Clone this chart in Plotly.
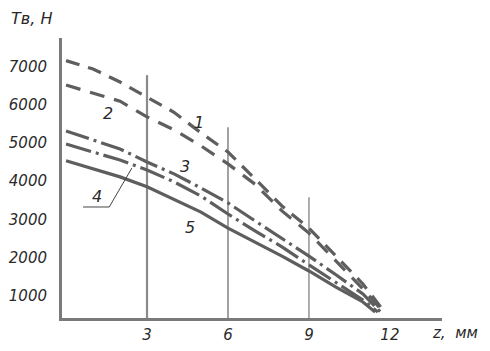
import plotly.graph_objects as go

# ---- data ----
z_common = [0, 1, 2, 3, 4, 5, 6, 7, 8, 9, 10, 11]

curve1_z = z_common + [11.8]
curve1_T = [7150, 6930, 6590, 6200, 5800, 5260, 4760, 4060, 3350, 2770, 2040, 1310, 580]

curve2_z = z_common + [11.8]
curve2_T = [6510, 6300, 6090, 5680, 5340, 4920, 4450, 3920, 3220, 2640, 1910, 1180, 550]

curve3_z = z_common + [11.65]
curve3_T = [5310, 5070, 4840, 4500, 4190, 3820, 3430, 2960, 2510, 2040, 1550, 1050, 580]

curve4_z = z_common + [11.55]
curve4_T = [4970, 4760, 4550, 4290, 3980, 3610, 3140, 2700, 2280, 1810, 1340, 890, 580]

curve5_z = z_common + [11.45]
curve5_T = [4530, 4320, 4110, 3850, 3530, 3190, 2770, 2410, 2040, 1650, 1230, 840, 580]

curve_names = ["1", "2", "3", "4", "5"]

drop_z = [3, 6, 9]
drop_top = [6770, 5410, 3580]

x_ticks = [3, 6, 9, 12]
x_ticktext = ["3", "6", "9", "12"]
y_ticks = [1000, 2000, 3000, 4000, 5000, 6000, 7000]
y_ticktext = ["1000", "2000", "3000", "4000", "5000", "6000", "7000"]

X_RANGE = [-0.15, 13.93]
Y_RANGE = [421, 7741]

LINE_COL = "#5e5e5e"
AXIS_COL = "#7a7a7a"
TEXT_COL = "#2a2a2a"
FONT = "DejaVu Sans"

fig = go.Figure()

# vertical drop lines at z = 3, 6, 9
for zz, top, w in zip(drop_z, drop_top, [2.2, 1.6, 1.4]):
    fig.add_trace(go.Scatter(x=[zz, zz], y=[Y_RANGE[0], top], mode="lines",
                             line=dict(color="#8a8a8a", width=w),
                             hoverinfo="skip", showlegend=False))

styles = ["14px,9px", "15px,10px", "24px,5px,3px,5px", "26px,5px,3px,5px", "solid"]
series = [(curve1_z, curve1_T), (curve2_z, curve2_T), (curve3_z, curve3_T),
          (curve4_z, curve4_T), (curve5_z, curve5_T)]
for (zs, ts), dash, nm in zip(series, styles, curve_names):
    fig.add_trace(go.Scatter(x=zs, y=ts, mode="lines", name=nm,
                             line=dict(color=LINE_COL, width=3.2, dash=dash),
                             showlegend=False))

# leader line for label 4
fig.add_trace(go.Scatter(x=[0.63, 1.6, 2.44], y=[3323, 3323, 4342], mode="lines",
                         line=dict(color="#444444", width=1),
                         hoverinfo="skip", showlegend=False))

label_pos = {"1": (4.91, 5545), "2": (1.54, 5780), "3": (4.42, 4369),
             "4": (1.15, 3610), "5": (4.61, 2774)}
for nm in curve_names:
    zx, ty = label_pos[nm]
    fig.add_annotation(x=zx, y=ty, xref="x", yref="y", text=nm, showarrow=False,
                       xanchor="center", yanchor="middle",
                       font=dict(family=FONT, size=16, color=TEXT_COL, style="italic"))

# origin "0"
fig.add_annotation(x=-0.74, y=0, xref="x", yref="paper", yshift=-15, text="0",
                   showarrow=False, xanchor="center", yanchor="middle",
                   font=dict(family=FONT, size=15, color=TEXT_COL, style="italic"))
# axis titles
fig.add_annotation(x=1.034, y=0, xref="paper", yref="paper", yshift=-15,
                   text="z,  мм", showarrow=False, xanchor="center", yanchor="middle",
                   font=dict(family=FONT, size=15, color=TEXT_COL, style="italic"))
fig.add_annotation(x=-0.08, y=1, xref="paper", yref="paper", yshift=20,
                   text="Тв, Н", showarrow=False, xanchor="center", yanchor="middle",
                   font=dict(family=FONT, size=16, color=TEXT_COL, style="italic"))

# the page body has an 8px margin, so the figure is sized/offset to compensate
fig.update_layout(
    template="none",
    width=482, height=343,
    margin=dict(l=54, r=48, t=30, b=33, pad=0),
    paper_bgcolor="white", plot_bgcolor="white",
    font=dict(family=FONT, color=TEXT_COL),
    showlegend=False,
)
fig.update_xaxes(range=X_RANGE, tickvals=x_ticks, ticktext=x_ticktext,
                 showgrid=False, zeroline=False, showline=True, automargin=False,
                 linecolor=AXIS_COL, linewidth=3, ticks="",
                 ticklabelstandoff=1,
                 tickfont=dict(family=FONT, size=15, color=TEXT_COL, style="italic"))
fig.update_yaxes(range=Y_RANGE, tickvals=y_ticks, ticktext=y_ticktext,
                 showgrid=False, zeroline=False, showline=True, automargin=False,
                 linecolor=AXIS_COL, linewidth=3, ticks="",
                 ticklabelstandoff=9,
                 tickfont=dict(family=FONT, size=15, color=TEXT_COL, style="italic"))

fig.write_html("out.html")
